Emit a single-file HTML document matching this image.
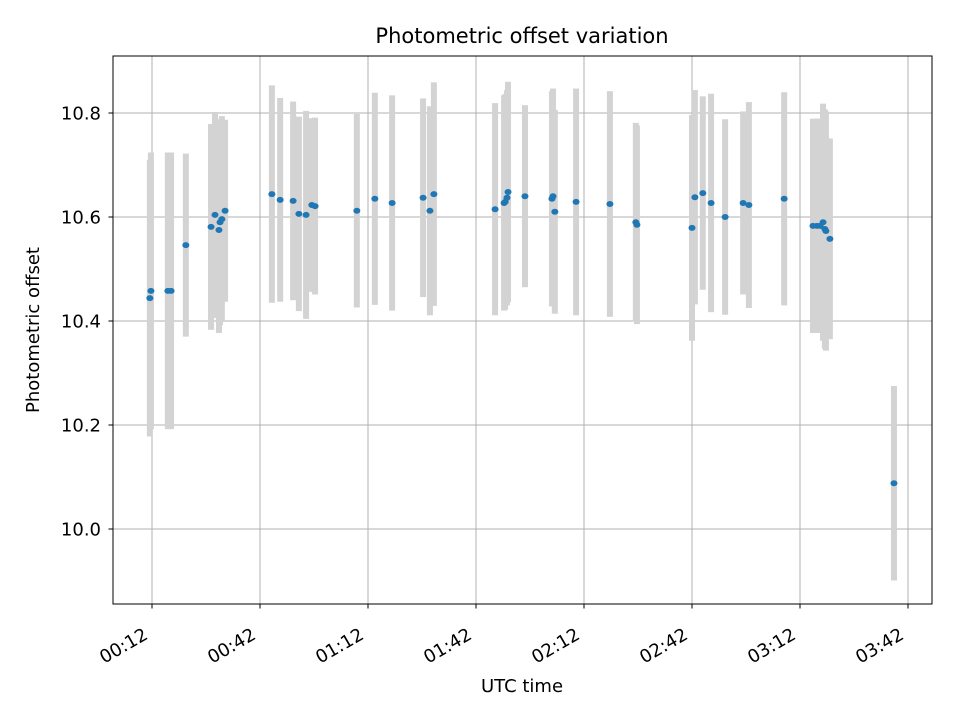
<!DOCTYPE html>
<html><head><meta charset="utf-8"><style>
body{margin:0;background:#fff}
svg text{font-family:"DejaVu Sans","Liberation Sans",sans-serif;fill:#000}
</style></head><body>
<svg id="chart" width="960" height="720" xmlns="http://www.w3.org/2000/svg">
<rect width="960" height="720" fill="#fff"/>
<text x="522" y="43" font-size="21" text-anchor="middle">Photometric offset variation</text>
<g id="grid"></g>
<g id="bars"></g>
<g id="points"></g>
<rect x="113" y="56" width="819" height="548" fill="none" stroke="#000" stroke-width="1"/>
<g id="axes"></g>
<text x="522" y="692" font-size="18" text-anchor="middle">UTC time</text>
<text transform="translate(39,330) rotate(-90)" font-size="18" text-anchor="middle">Photometric offset</text>
</svg>
<script>
// minutes since 00:00 UTC
const times=[11.4,11.7,16.4,17.3,21.4,28.4,29.5,30.6,30.9,31.4,32.3,45.3,47.6,51.2,52.8,54.8,56.4,57.3,68.9,73.9,78.7,87.3,89.2,90.3,107.3,109.8,110.1,110.6,110.9,115.6,123.1,123.4,123.9,129.8,139.2,146.4,146.7,162.0,162.8,165.0,167.3,171.2,176.2,177.8,187.6,195.6,196.7,197.6,198.4,198.9,199.2,200.3,218.1];
const offsets=[10.444,10.458,10.458,10.458,10.546,10.581,10.604,10.575,10.590,10.596,10.612,10.644,10.633,10.631,10.606,10.604,10.623,10.621,10.612,10.635,10.627,10.637,10.612,10.644,10.615,10.627,10.629,10.637,10.648,10.640,10.635,10.640,10.610,10.629,10.625,10.590,10.585,10.579,10.638,10.646,10.627,10.600,10.627,10.623,10.635,10.583,10.583,10.583,10.590,10.577,10.573,10.558,10.088];
const errors=[0.266,0.266,0.266,0.266,0.176,0.198,0.198,0.198,0.198,0.198,0.175,0.209,0.196,0.191,0.187,0.2,0.167,0.170,0.186,0.204,0.207,0.191,0.201,0.215,0.204,0.207,0.207,0.207,0.212,0.175,0.207,0.207,0.196,0.218,0.217,0.191,0.191,0.217,0.206,0.186,0.21,0.188,0.176,0.198,0.205,0.206,0.206,0.206,0.228,0.23,0.23,0.193,0.187];
const yTicks=[10.0,10.2,10.4,10.6,10.8];
const xTickMinutes=[12,42,72,102,132,162,192,222];
const xTickLabels=["00:12","00:42","01:12","01:42","02:12","02:42","03:12","03:42"];

const NS="http://www.w3.org/2000/svg";
const X=m=>152+(m-12)*3.6;
const Y=v=>113+(10.8-v)*520;
function mk(tag,attrs,parent){const e=document.createElementNS(NS,tag);for(const k in attrs)e.setAttribute(k,attrs[k]);parent.appendChild(e);return e;}
const grid=document.getElementById('grid'),axes=document.getElementById('axes');
const bars=document.getElementById('bars'),pts=document.getElementById('points');
yTicks.forEach(v=>{
  const y=Y(v);
  const g=mk('line',{x1:113,x2:932,y1:y,y2:y,stroke:'#b0b0b0','stroke-width':1},grid);
  
  
  const t=mk('line',{x1:108.5,x2:113,y1:y,y2:y,stroke:'#000'},axes);
  
  
  const l=mk('text',{x:101,y:y+6.5,'font-size':18,'text-anchor':'end'},axes);
  l.textContent=v.toFixed(1);
  
  
});
xTickMinutes.forEach((m,i)=>{
  const x=X(m);
  const g=mk('line',{x1:x,x2:x,y1:56,y2:604,stroke:'#b0b0b0','stroke-width':1},grid);
  
  
  const t=mk('line',{x1:x,x2:x,y1:604,y2:608.5,stroke:'#000'},axes);
  
  
  const l=mk('text',{x:x-3,y:638,'font-size':18,'text-anchor':'end',transform:`rotate(-30 ${x-3} 638)`},axes);
  l.textContent=xTickLabels[i];
  
  
});
times.forEach((m,i)=>{
  const x=X(m);
  const b=mk('rect',{x:x-3,y:Y(offsets[i]+errors[i]),width:6,height:Y(offsets[i]-errors[i])-Y(offsets[i]+errors[i]),fill:'#d3d3d3'},bars);
  
  
});
times.forEach((m,i)=>{
  const c=mk('ellipse',{cx:X(m),cy:Y(offsets[i]),rx:3.5,ry:3,fill:'#1f77b4'},pts);
  
  
});
</script>
</body></html>
